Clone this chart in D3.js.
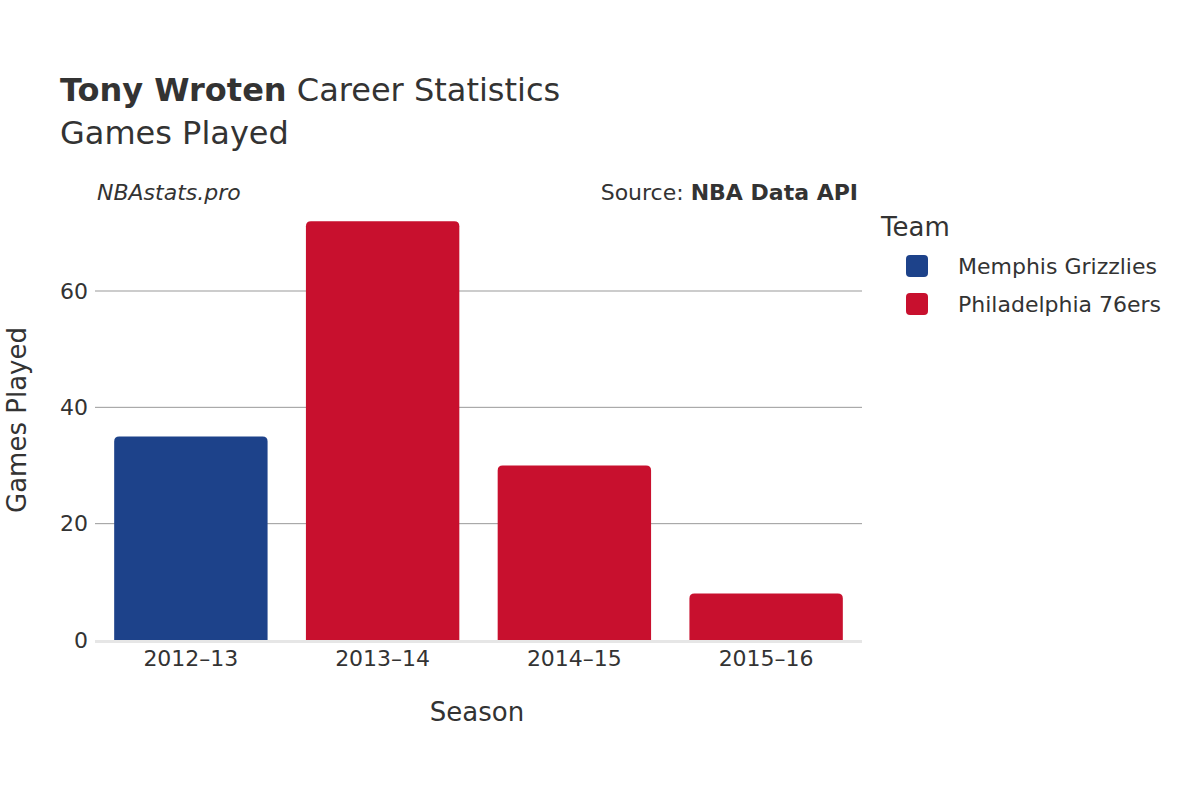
<!DOCTYPE html>
<html>
<head>
<meta charset="utf-8">
<script src="https://cdn.jsdelivr.net/npm/d3@7"></script>
<style>
  body { margin: 0; background: #fff; }
  text { font-family: "DejaVu Sans", sans-serif; fill: #333; }
</style>
</head>
<body>
<svg id="chart" width="1200" height="800"></svg>
<script>
const seasons = ['2012–13', '2013–14', '2014–15', '2015–16']
const games = [35, 72, 30, 8]
const teams = ['Memphis Grizzlies', 'Philadelphia 76ers', 'Philadelphia 76ers', 'Philadelphia 76ers']
const legendTeams = ['Memphis Grizzlies', 'Philadelphia 76ers']
const teamColors = ['#1d428a', '#c8102e']
const yTicks = [0, 20, 40, 60]

const svg = d3.select('#chart')
const margin = { left: 95, right: 862, top: 221, bottom: 640 }

const x = d3.scaleBand().domain(seasons).range([margin.left, margin.right]).paddingInner(0.2).paddingOuter(0.1)
const y = d3.scaleLinear().domain([0, 60]).range([margin.bottom, 291])
const color = d3.scaleOrdinal().domain(legendTeams).range(teamColors)

// grid
svg.append('g').selectAll('line').data(yTicks.filter(d => d > 0)).join('line')
  .attr('x1', margin.left).attr('x2', margin.right)
  .attr('y1', d => y(d)).attr('y2', d => y(d))
  .attr('stroke', '#999').attr('stroke-width', 1)

svg.append('g').selectAll('text').data(yTicks).join('text')
  .attr('x', 88).attr('y', d => y(d)).attr('dy', '0.35em')
  .attr('text-anchor', 'end').attr('font-size', 22).text(d => d)

// bars
svg.append('g').selectAll('path').data(seasons).join('path')
  .attr('fill', (d, i) => color(teams[i]))
  .attr('d', (d, i) => {
    const x0 = x(d), w = x.bandwidth(), y0 = y(games[i]), r = 5
    return `M${x0},${y(0)}V${y0 + r}Q${x0},${y0} ${x0 + r},${y0}H${x0 + w - r}Q${x0 + w},${y0} ${x0 + w},${y0 + r}V${y(0)}Z`
  })

svg.append('line').attr('x1', margin.left).attr('x2', margin.right)
  .attr('y1', y(0) + 1.5).attr('y2', y(0) + 1.5).attr('stroke', '#e6e6e6').attr('stroke-width', 3)

svg.append('g').selectAll('text').data(seasons).join('text')
  .attr('x', d => x(d) + x.bandwidth() / 2).attr('y', 666)
  .attr('text-anchor', 'middle').attr('font-size', 22).text(d => d)

// axis titles
svg.append('text').attr('x', 477).attr('y', 721).attr('text-anchor', 'middle').attr('font-size', 26).text('Season')
svg.append('text').attr('transform', 'translate(26,420) rotate(-90)').attr('text-anchor', 'middle').attr('font-size', 26).text('Games Played')

// titles
const t = svg.append('text').attr('x', 60).attr('y', 101).attr('font-size', 32)
t.append('tspan').attr('font-weight', 'bold').text('Tony Wroten')
t.append('tspan').text(' Career Statistics')
svg.append('text').attr('x', 60).attr('y', 144).attr('font-size', 32).text('Games Played')

svg.append('text').attr('x', 97).attr('y', 200).attr('font-size', 22).attr('font-style', 'italic').text('NBAstats.pro')
const s = svg.append('text').attr('x', 858).attr('y', 200).attr('font-size', 22).attr('text-anchor', 'end')
s.append('tspan').text('Source: ')
s.append('tspan').attr('font-weight', 'bold').text('NBA Data API')

// legend
svg.append('text').attr('x', 881).attr('y', 236).attr('font-size', 26).text('Team')
const lg = svg.append('g').selectAll('g').data(legendTeams).join('g')
  .attr('transform', (d, i) => `translate(906,${266 + i * 38})`)
lg.append('rect').attr('x', 0).attr('y', -11).attr('width', 22).attr('height', 22).attr('rx', 4).attr('fill', d => color(d))
lg.append('text').attr('x', 52).attr('dy', '0.35em').attr('font-size', 22).text(d => d)
</script>
</body>
</html>
